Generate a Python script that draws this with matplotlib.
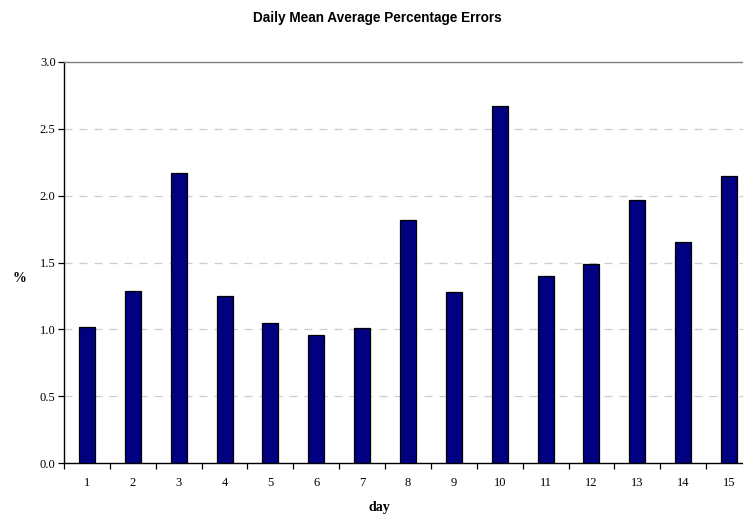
import matplotlib
matplotlib.use('Agg')
import matplotlib.pyplot as plt
import numpy as np

days = list(range(1, 16))
mape = [1.02, 1.29, 2.17, 1.25, 1.05, 0.96, 1.01, 1.82, 1.28,
        2.67, 1.40, 1.49, 1.97, 1.65, 2.15]
yticks = [0.0, 0.5, 1.0, 1.5, 2.0, 2.5, 3.0]

fig = plt.figure(figsize=(7.43, 5.15), dpi=100)
# plot area runs slightly past the right edge of the canvas
ax = fig.add_axes([64 / 743, 52 / 515, 688 / 743, 401 / 515])

x = np.arange(len(days))
ax.bar(x, mape, width=0.35, color='#000080', edgecolor='black',
       linewidth=0.9, zorder=3)

ax.set_xlim(-0.5, len(days) - 0.5)
ax.set_ylim(0, 3.0)
ax.set_yticks(yticks)
ax.set_yticklabels(['%.1f' % v for v in yticks])
ax.set_xticks(x)
ax.set_xticklabels([str(d) for d in days])
ax.set_xticks(np.arange(len(days) + 1) - 0.5, minor=True)

ax.tick_params(axis='x', which='major', length=0, pad=10)
ax.tick_params(axis='x', which='minor', length=4, width=0.9, direction='out')
ax.tick_params(axis='y', length=4, width=0.9, direction='out', pad=2)
for lab in ax.get_xticklabels() + ax.get_yticklabels():
    lab.set_fontfamily('Liberation Serif')
    lab.set_fontsize(9)

for v in yticks[1:-1]:
    ax.axhline(v, color='#cccccc', linewidth=0.9, dashes=(6.4, 5.6), zorder=1)

ax.spines['right'].set_visible(False)
ax.spines['top'].set_color('#808080')
ax.spines['top'].set_linewidth(1.0)
ax.spines['left'].set_linewidth(1.0)
ax.spines['bottom'].set_linewidth(1.0)

fig.text(377 / 743, 1 - 18 / 515, 'Daily Mean Average Percentage Errors',
         ha='center', va='center', fontsize=9.8, fontweight='bold',
         family='Liberation Sans')
fig.text(19 / 743, 1 - 278 / 515, '%', ha='center', va='center',
         fontsize=10, fontweight='bold', family='Liberation Serif')
fig.text(379 / 743, 1 - 507 / 515, 'day', ha='center', va='center',
         fontsize=10, fontweight='bold', family='Liberation Serif')

fig.savefig('out.png', dpi=100)
